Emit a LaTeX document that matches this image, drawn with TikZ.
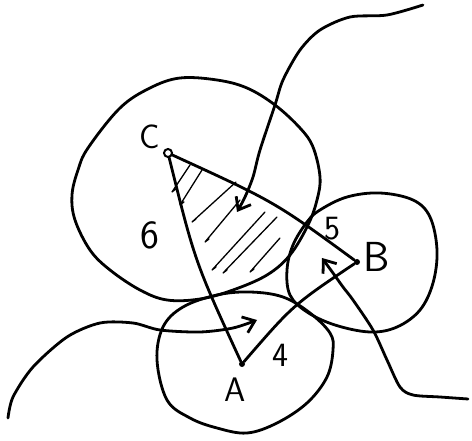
\documentclass[tikz,border=0pt]{standalone}
\usetikzlibrary{arrows.meta}
\begin{document}
\begin{tikzpicture}[x=1pt,y=-1pt,
  pen/.style={line width=2.8pt,line cap=round,line join=round},
  hatch/.style={line width=1.3pt,line cap=round,line join=round},
  pointer/.style={pen,-{Straight Barb[length=11pt,width=17pt]}},
  lbl/.style={font=\sffamily\fontsize{#1}{#1}\selectfont,inner sep=0pt},
  lbl/.default=34,
  dot/.style={circle,draw,line width=2pt,inner sep=0pt,minimum size=8pt},
  blob/.style={circle,fill,inner sep=0pt,minimum size=6pt}]
\useasboundingbox (0,0) rectangle (472,441);
% hatched part of the triangle
\foreach \tx/\ty/\bx/\by in {190/165/172/192, 202/170/180/205, 236/182/192/222, 240/200/205/242, 265/212/212/270, 277/217/223/273, 280/238/250/272}
  \draw[hatch] (\tx,\ty) -- (\bx,\by) -- ++(4,-3);
% circles
\draw[pen] plot[smooth cycle,tension=0.6] coordinates {(180,78) (217,80) (247,88) (275,105) (300,128) (313,147) (320,177) (317,200) (308,225) (290,255) (267,275) (233,290) (200,299) (167,300) (140,290) (110,270) (90,250) (75,220) (72,195) (78,170) (88,148) (120,108) (150,88)};
\draw[pen] plot[smooth cycle,tension=0.6] coordinates {(157,360) (163,327) (183,307) (217,295) (250,292) (283,297) (310,313) (330,333) (333,350) (327,377) (307,403) (277,423) (247,433) (217,428) (190,418) (167,400)};
\draw[pen] plot[smooth cycle,tension=0.6] coordinates {(307,222) (320,210) (347,197) (380,193) (413,200) (430,217) (437,250) (433,283) (420,310) (397,327) (370,332) (335,325) (307,312) (290,295) (287,270) (293,245)};
% points
\node[dot] (C) at (168,153) {};
\node[blob] (A) at (242,364) {};
\node[blob] (B) at (357,262) {};
\coordinate (kCA) at (195,262);
\coordinate (kCB) at (275,202);
\coordinate (kAB) at (293,305);
% triangle
\draw[pen] (C) .. controls (kCA) .. (A);
\draw[pen] (C) .. controls (kCB) .. (B);
\draw[pen] (A) .. controls (kAB) .. (B);
% pointers
\draw[pointer] plot[smooth] coordinates {(423,5) (387,15) (350,17) (320,30) (300,50) (283,80) (275,105) (260,150) (253,177) (245,197) (237,212)};
\draw[pointer] plot[smooth] coordinates {(8,418) (13,397) (33,367) (67,337) (100,323) (133,323) (160,330) (200,332) (233,328) (257,320)};
\draw[pointer] plot[smooth] coordinates {(468,399) (440,397) (413,395) (400,387) (387,360) (373,330) (353,300) (343,287) (333,273) (322,258)};
% labels
\node[lbl] (labC) at (150,137) {C};
\node[lbl=40] (lab6) at (150,235) {6};
\node[lbl] (lab5) at (332,229) {5};
\node[lbl=42] (labB) at (377,257) {B};
\node[lbl] (lab4) at (280,355) {4};
\node[lbl] (labA) at (235,390) {A};
\end{tikzpicture}
\end{document}
